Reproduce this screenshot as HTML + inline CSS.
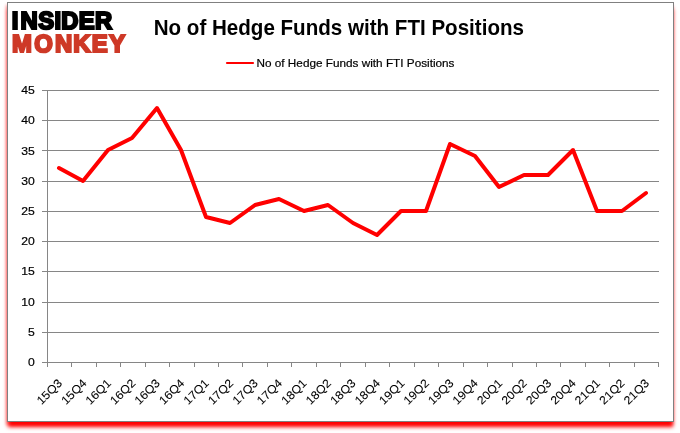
<!DOCTYPE html>
<html><head><meta charset="utf-8"><title>No of Hedge Funds with FTI Positions</title>
<style>
html,body{margin:0;padding:0;background:#fff;}
body{width:680px;height:433px;overflow:hidden;position:relative;font-family:"Liberation Sans",sans-serif;}
#frame{position:absolute;left:7px;top:2px;width:665px;height:418px;border:1px solid #808080;background:#fff;box-shadow:0 6px 4px -1px #ff0000, -1px 3px 3px 0 rgba(255,0,0,0.4);}
svg{position:absolute;left:0;top:0;}
text{font-family:"Liberation Sans",sans-serif;fill:#000;}
.ax{font-size:11.6px;stroke:#000;stroke-width:0.2px;}
.logo{font-weight:bold;stroke-linejoin:miter;text-rendering:geometricPrecision;}
</style></head><body>
<div id="frame"></div>
<svg width="680" height="433" viewBox="0 0 680 433">

<g stroke="#868686" stroke-width="1" fill="none" shape-rendering="crispEdges">
<line x1="42.0" y1="362.5" x2="659.0" y2="362.5"/>
<line x1="42.0" y1="332.5" x2="659.0" y2="332.5"/>
<line x1="42.0" y1="302.5" x2="659.0" y2="302.5"/>
<line x1="42.0" y1="271.5" x2="659.0" y2="271.5"/>
<line x1="42.0" y1="241.5" x2="659.0" y2="241.5"/>
<line x1="42.0" y1="211.5" x2="659.0" y2="211.5"/>
<line x1="42.0" y1="181.5" x2="659.0" y2="181.5"/>
<line x1="42.0" y1="150.5" x2="659.0" y2="150.5"/>
<line x1="42.0" y1="120.5" x2="659.0" y2="120.5"/>
<line x1="42.0" y1="90.5" x2="659.0" y2="90.5"/>
<line x1="47.5" y1="90.5" x2="47.5" y2="362.5"/>
<line x1="47.5" y1="362.5" x2="47.5" y2="367.0"/>
<line x1="71.5" y1="362.5" x2="71.5" y2="367.0"/>
<line x1="96.5" y1="362.5" x2="96.5" y2="367.0"/>
<line x1="120.5" y1="362.5" x2="120.5" y2="367.0"/>
<line x1="145.5" y1="362.5" x2="145.5" y2="367.0"/>
<line x1="169.5" y1="362.5" x2="169.5" y2="367.0"/>
<line x1="194.5" y1="362.5" x2="194.5" y2="367.0"/>
<line x1="218.5" y1="362.5" x2="218.5" y2="367.0"/>
<line x1="242.5" y1="362.5" x2="242.5" y2="367.0"/>
<line x1="267.5" y1="362.5" x2="267.5" y2="367.0"/>
<line x1="291.5" y1="362.5" x2="291.5" y2="367.0"/>
<line x1="316.5" y1="362.5" x2="316.5" y2="367.0"/>
<line x1="340.5" y1="362.5" x2="340.5" y2="367.0"/>
<line x1="365.5" y1="362.5" x2="365.5" y2="367.0"/>
<line x1="389.5" y1="362.5" x2="389.5" y2="367.0"/>
<line x1="414.5" y1="362.5" x2="414.5" y2="367.0"/>
<line x1="438.5" y1="362.5" x2="438.5" y2="367.0"/>
<line x1="463.5" y1="362.5" x2="463.5" y2="367.0"/>
<line x1="487.5" y1="362.5" x2="487.5" y2="367.0"/>
<line x1="512.5" y1="362.5" x2="512.5" y2="367.0"/>
<line x1="536.5" y1="362.5" x2="536.5" y2="367.0"/>
<line x1="560.5" y1="362.5" x2="560.5" y2="367.0"/>
<line x1="585.5" y1="362.5" x2="585.5" y2="367.0"/>
<line x1="609.5" y1="362.5" x2="609.5" y2="367.0"/>
<line x1="634.5" y1="362.5" x2="634.5" y2="367.0"/>
<line x1="658.5" y1="362.5" x2="658.5" y2="367.0"/>
</g>
<g class="ax" text-anchor="end">
<text transform="translate(34.8,366.1) scale(1.05,1)">0</text>
<text transform="translate(34.8,335.9) scale(1.05,1)">5</text>
<text transform="translate(34.8,305.7) scale(1.05,1)">10</text>
<text transform="translate(34.8,275.4) scale(1.05,1)">15</text>
<text transform="translate(34.8,245.2) scale(1.05,1)">20</text>
<text transform="translate(34.8,215.0) scale(1.05,1)">25</text>
<text transform="translate(34.8,184.8) scale(1.05,1)">30</text>
<text transform="translate(34.8,154.5) scale(1.05,1)">35</text>
<text transform="translate(34.8,124.3) scale(1.05,1)">40</text>
<text transform="translate(34.8,94.1) scale(1.05,1)">45</text>
</g>
<g class="ax" text-anchor="end" style="stroke-width:0.08px">
<text transform="translate(62.9,383.9) rotate(-45) scale(1.07,1)">15Q3</text>
<text transform="translate(87.4,383.9) rotate(-45) scale(1.07,1)">15Q4</text>
<text transform="translate(111.8,383.9) rotate(-45) scale(1.07,1)">16Q1</text>
<text transform="translate(136.3,383.9) rotate(-45) scale(1.07,1)">16Q2</text>
<text transform="translate(160.7,383.9) rotate(-45) scale(1.07,1)">16Q3</text>
<text transform="translate(185.2,383.9) rotate(-45) scale(1.07,1)">16Q4</text>
<text transform="translate(209.7,383.9) rotate(-45) scale(1.07,1)">17Q1</text>
<text transform="translate(234.1,383.9) rotate(-45) scale(1.07,1)">17Q2</text>
<text transform="translate(258.6,383.9) rotate(-45) scale(1.07,1)">17Q3</text>
<text transform="translate(283.0,383.9) rotate(-45) scale(1.07,1)">17Q4</text>
<text transform="translate(307.5,383.9) rotate(-45) scale(1.07,1)">18Q1</text>
<text transform="translate(332.0,383.9) rotate(-45) scale(1.07,1)">18Q2</text>
<text transform="translate(356.4,383.9) rotate(-45) scale(1.07,1)">18Q3</text>
<text transform="translate(380.9,383.9) rotate(-45) scale(1.07,1)">18Q4</text>
<text transform="translate(405.3,383.9) rotate(-45) scale(1.07,1)">19Q1</text>
<text transform="translate(429.8,383.9) rotate(-45) scale(1.07,1)">19Q2</text>
<text transform="translate(454.3,383.9) rotate(-45) scale(1.07,1)">19Q3</text>
<text transform="translate(478.7,383.9) rotate(-45) scale(1.07,1)">19Q4</text>
<text transform="translate(503.2,383.9) rotate(-45) scale(1.07,1)">20Q1</text>
<text transform="translate(527.6,383.9) rotate(-45) scale(1.07,1)">20Q2</text>
<text transform="translate(552.1,383.9) rotate(-45) scale(1.07,1)">20Q3</text>
<text transform="translate(576.6,383.9) rotate(-45) scale(1.07,1)">20Q4</text>
<text transform="translate(601.0,383.9) rotate(-45) scale(1.07,1)">21Q1</text>
<text transform="translate(625.5,383.9) rotate(-45) scale(1.07,1)">21Q2</text>
<text transform="translate(649.9,383.9) rotate(-45) scale(1.07,1)">21Q3</text>
</g>
<polyline points="59,168 83,181 108,150 132,138 157,108 181,150 206,217 230,223 255,205 279,199 304,211 328,205 353,223 377,235 401,211 426,211 450,144 475,156 499,187 524,175 548,175 573,150 597,211 622,211 646,193" fill="none" stroke="#ff0000" stroke-width="4" stroke-linejoin="round" stroke-linecap="round"/>
<line x1="227" y1="63" x2="253" y2="63" stroke="#ff0000" stroke-width="2.2" stroke-linecap="round"/>
<text class="ax" x="256.5" y="67.4" textLength="198" lengthAdjust="spacingAndGlyphs">No of Hedge Funds with FTI Positions</text>
<text x="153.7" y="35" font-size="21.4" font-weight="bold" textLength="370.3" lengthAdjust="spacingAndGlyphs">No of Hedge Funds with FTI Positions</text>
<text class="logo" transform="translate(0,29) scale(0.97,1)" x="12.01 21.16 39.49 56.22 63.07 81.07 97.90" y="0" font-size="24.5" style="fill:#000000;stroke:#000000;stroke-width:2.2px">INSIDER</text>
<text class="logo" transform="translate(0,52) scale(0.97,1)" x="12.33 35.44 56.79 75.64 94.52 112.55" y="0" font-size="24.6" style="fill:#ce3927;stroke:#ce3927;stroke-width:2.2px">MONKEY</text>
</svg></body></html>
